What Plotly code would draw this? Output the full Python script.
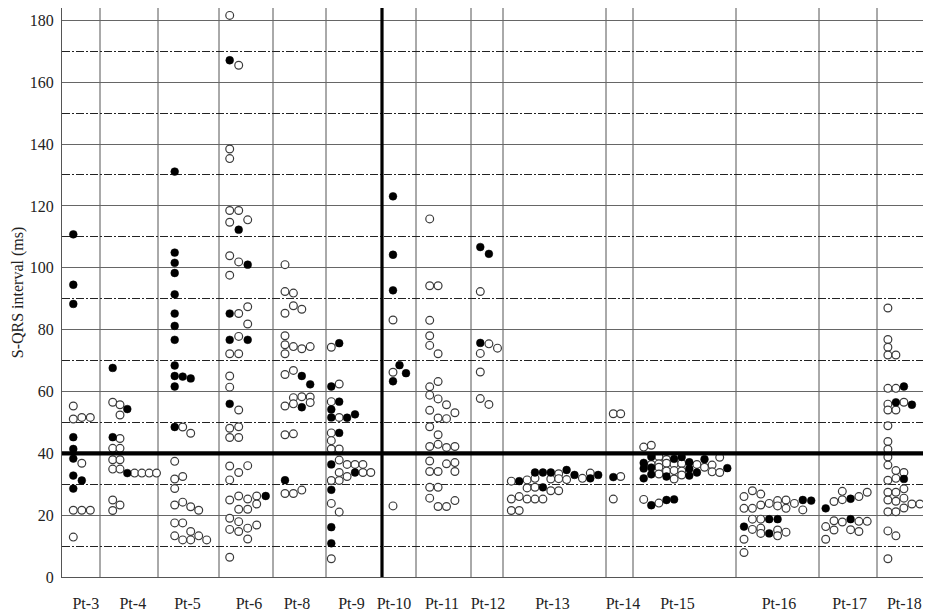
import plotly.graph_objects as go

# ---------------- data ----------------
patients = ["Pt-3", "Pt-4", "Pt-5", "Pt-6", "Pt-8", "Pt-9", "Pt-10", "Pt-11",
            "Pt-12", "Pt-13", "Pt-14", "Pt-15", "Pt-16", "Pt-17", "Pt-18"]

# S-QRS interval (ms); each inner list = one dot column inside the patient block
pt3_open = [[55.3, 51.1, 21.6, 12.9], [51.6, 36.8, 21.6], [51.6, 21.6]]
pt3_filled = [[110.8, 94.5, 88.3, 45.2, 41.4, 38.3, 32.8, 28.6], [31.2]]

pt4_open = [[56.5, 41.6, 37.9, 34.9, 24.9, 21.5],
            [55.7, 52.4, 44.8, 41.6, 37.9, 34.9, 23.3],
            [], [33.6], [33.6], [33.6], [33.6]]
pt4_filled = [[67.6, 45.2], [], [54.3, 33.6]]

pt5_open = [[37.4, 31.7, 28.6, 23.3, 17.5, 13.3], [48.5, 32.5, 24.2, 17.5, 12.0],
            [46.5, 22.7, 14.7, 12.0], [21.6, 13.3], [12.0]]
pt5_filled = [[131.1, 104.9, 101.6, 98.3, 91.4, 85.2, 81.2, 76.7, 68.4, 65.0, 61.6, 48.5],
              [64.8], [64.2]]

pt6_open = [[181.6, 138.4, 135.3, 118.5, 114.7, 103.9, 97.6, 72.2, 65.0, 61.4, 48.1, 45.1,
             35.9, 31.4, 24.9, 19.0, 15.4, 6.4],
            [165.5, 118.5, 101.9, 85.2, 77.8, 72.2, 54.0, 48.6, 45.1, 33.8, 26.2, 21.9, 17.9, 14.7],
            [115.5, 87.4, 81.8, 36.0, 25.2, 21.9, 15.8, 12.3],
            [26.2, 23.6, 16.8]]
pt6_filled = [[167.1, 85.2, 76.7, 56.0], [112.3], [101.0, 76.7], [], [26.2]]

pt8_open = [[101.0, 92.3, 85.3, 78.0, 75.1, 72.2, 65.5, 55.3, 46.0, 27.0],
            [91.8, 87.7, 74.5, 66.8, 58.0, 56.0, 46.3, 27.0],
            [86.6, 73.8, 58.3, 28.1],
            [74.5, 58.2, 56.4]]
pt8_filled = [[31.3], [], [65.0, 54.9], [62.3]]

pt9_open = [[74.3, 56.7, 46.6, 44.1, 41.4, 31.2, 23.8, 5.9],
            [62.4, 51.6, 41.4, 37.8, 33.8, 31.2, 21.0],
            [36.4, 32.5], [36.4], [36.4, 33.8], [33.8]]
pt9_filled = [[61.6, 54.2, 51.6, 36.4, 28.2, 16.1, 10.9], [75.6, 56.7, 46.6],
              [51.5], [52.6, 33.8]]

pt10_open = [[83.1, 66.2, 23.0]]
pt10_filled = [[123.1, 104.2, 92.7, 63.3], [68.5], [65.9]]

pt11_open = [[115.8, 94.2, 83.0, 78.0, 74.9, 61.5, 58.8, 53.9, 48.6, 42.2, 37.5, 34.1, 29.0, 25.5],
             [94.2, 72.2, 63.2, 57.6, 51.4, 46.0, 42.9, 34.1, 29.0, 22.8],
             [55.7, 51.2, 41.9, 36.6, 22.8],
             [53.1, 42.2, 37.0, 34.1, 24.7]]
pt11_filled = [[]]

pt12_open = [[92.3, 72.3, 66.3, 57.7], [75.4, 55.8], [74.0]]
pt12_filled = [[106.7, 75.7], [104.5]]

pt13_open = [[31.0, 25.2, 21.5], [26.0, 21.5], [31.4, 28.8, 25.2], [31.9, 29.0, 25.2],
             [25.2], [31.7, 27.9], [33.4, 31.8, 27.9], [31.5], [], [31.9], [33.6], []]
pt13_filled = [[], [31.0], [], [33.8], [33.8, 29.0], [33.8], [], [34.6], [33.0], [],
               [31.9], [33.0]]

pt14_open = [[52.8, 25.2], [52.8, 32.5]]
pt14_filled = [[32.3]]

pt15_open = [[42.0, 25.1], [42.6, 36.4], [38.9, 36.6, 35.5, 33.3, 23.9], [38.0, 36.8, 34.3],
             [36.5, 34.4, 31.7], [36.7, 34.3, 33.0], [], [36.4], [35.5], [36.2, 34.0],
             [38.7, 33.8], []]
pt15_filled = [[36.9, 35.1, 31.9], [38.9, 35.4, 33.2, 23.2], [], [32.5, 24.9], [38.2, 25.1],
               [38.8], [37.1, 35.0, 32.8], [33.8], [38.1], [], [], [35.2]]

pt16_open = [[26.0, 22.2, 12.2, 7.9], [27.9, 22.2, 18.7, 15.4], [26.8, 23.3, 18.7, 15.8, 14.1],
             [23.8], [24.7, 23.0, 15.2, 13.3], [24.9, 22.2, 14.5], [23.8], [21.7], []]
pt16_filled = [[16.3], [], [], [18.7, 14.1], [18.7], [], [], [24.9], [24.7]]

pt17_open = [[16.3, 12.2], [24.4, 18.2, 15.2], [27.7, 25.0, 17.8], [15.3],
             [26.0, 18.0, 14.7], [27.4, 18.0]]
pt17_filled = [[22.2], [], [], [25.3, 18.7]]

pt18_open = [[87.0, 76.8, 74.3, 71.8, 61.0, 55.9, 54.0, 48.9, 43.8, 41.3, 38.8, 36.2, 31.3,
              27.4, 24.9, 21.1, 14.9, 5.9],
             [71.8, 61.0, 54.0, 34.4, 31.9, 27.4, 24.5, 21.1, 13.3],
             [56.5, 33.8, 28.5, 25.5, 22.3], [23.6], [23.6]]
pt18_filled = [[], [56.5], [61.6, 31.7], [55.7]]

open_sets = [pt3_open, pt4_open, pt5_open, pt6_open, pt8_open, pt9_open, pt10_open,
             pt11_open, pt12_open, pt13_open, pt14_open, pt15_open, pt16_open,
             pt17_open, pt18_open]
filled_sets = [pt3_filled, pt4_filled, pt5_filled, pt6_filled, pt8_filled, pt9_filled,
               pt10_filled, pt11_filled, pt12_filled, pt13_filled, pt14_filled,
               pt15_filled, pt16_filled, pt17_filled, pt18_filled]

y_ticks = [0, 20, 40, 60, 80, 100, 120, 140, 160, 180]
threshold = 40

# ---------------- layout (horizontal placement of the blocks) ----------------
col_first = [11.3, 50.7, 112.7, 167.7, 223.0, 269.3, 331.0, 367.7, 418.3,
             449.3, 551.3, 581.7, 682.0, 763.7, 825.9]
col_step = [8.5, 7.3, 8.0, 9.0, 8.4, 7.9, 6.5, 8.4, 8.6, 7.9, 7.4, 7.6, 8.4, 8.3, 8.0]
separators = [38, 96, 157, 211, 264, 354, 409, 441, 544, 571, 674, 757, 815]
big_separator = 320
label_pos = [23.8, 70.8, 125.5, 187, 235, 289.5, 332, 380, 426, 490.5, 561, 615.5,
             717, 787.7, 842.3]
X_MAX = 869
Y_MAX = 184


def expand(sets):
    xs, ys = [], []
    for i, cols in enumerate(sets):
        for j, col in enumerate(cols):
            for v in col:
                xs.append(col_first[i] + j * col_step[i])
                ys.append(v)
    return xs, ys


ox, oy = expand(open_sets)
fx, fy = expand(filled_sets)

fig = go.Figure()
fig.add_trace(go.Scatter(
    x=ox, y=oy, mode="markers", showlegend=False, hoverinfo="y",
    marker=dict(symbol="circle", size=7.8, color="white",
                line=dict(color="#3a3a3a", width=1.2))))
fig.add_trace(go.Scatter(
    x=fx, y=fy, mode="markers", showlegend=False, hoverinfo="y",
    marker=dict(symbol="circle", size=7.8, color="black",
                line=dict(color="black", width=0.5))))

shapes = []
for s in separators:
    shapes.append(dict(type="line", xref="x", yref="y", x0=s, x1=s, y0=0, y1=Y_MAX,
                       line=dict(color="#555555", width=1), layer="below"))
shapes.append(dict(type="line", xref="x", yref="y", x0=big_separator, x1=big_separator,
                   y0=0, y1=Y_MAX, line=dict(color="black", width=3.2), layer="above"))
shapes.append(dict(type="line", xref="x", yref="y", x0=0, x1=X_MAX, y0=threshold,
                   y1=threshold, line=dict(color="black", width=4.2), layer="above"))

serif = "Liberation Serif, Times New Roman, serif"

# the page body has a default 8px margin, so the figure is 8px smaller than the window
fig.update_layout(
    width=923, height=605,
    margin=dict(l=54, r=0, t=0, b=36, autoexpand=False),
    paper_bgcolor="white", plot_bgcolor="white",
    font=dict(family=serif, size=16, color="#222222"),
    shapes=shapes,
    xaxis=dict(range=[0, X_MAX], showgrid=False, zeroline=False,
               showline=True, linecolor="#555555", linewidth=1,
               tickmode="array", tickvals=label_pos, ticktext=patients,
               ticks="outside", ticklen=12, tickcolor="rgba(0,0,0,0)",
               tickfont=dict(family=serif, size=16, color="#222222")),
    yaxis=dict(range=[0, Y_MAX], zeroline=False,
               showline=True, linecolor="#555555", linewidth=1,
               tickmode="array", tickvals=y_ticks,
               showgrid=True, gridcolor="#666666", gridwidth=1,
               minor=dict(dtick=10, tick0=0, showgrid=True, gridcolor="#222222",
                          gridwidth=1, griddash="8px,2px,2px,2px"),
               ticks="", ticklabelstandoff=4,
               tickfont=dict(family=serif, size=16, color="#222222"),
               title=dict(text="S-QRS interval (ms)", standoff=2,
                          font=dict(family=serif, size=16, color="#222222"))),
)

fig.write_html("out.html")
